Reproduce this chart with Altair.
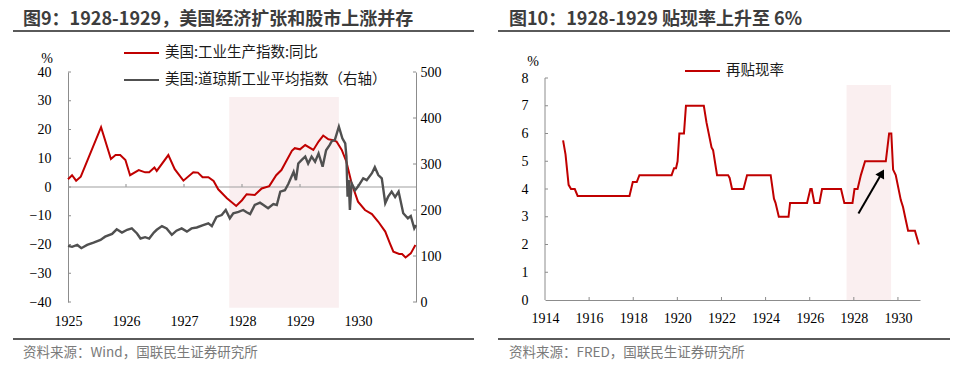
import altair as alt
import pandas as pd

# ---------------- data ----------------
# Left: US industrial production YoY (%), left axis
ip_year = [1925.00, 1925.07, 1925.14, 1925.22, 1925.57, 1925.74, 1925.82, 1925.90, 1925.99,
           1926.07, 1926.22, 1926.33, 1926.40, 1926.49, 1926.53, 1926.73, 1926.84, 1926.99,
           1927.16, 1927.24, 1927.32, 1927.42, 1927.51, 1927.59, 1927.74, 1927.90, 1928.00,
           1928.08, 1928.22, 1928.34, 1928.47, 1928.59, 1928.68, 1928.86, 1928.91, 1929.00,
           1929.09, 1929.23, 1929.32, 1929.40, 1929.49, 1929.57, 1929.63, 1929.72, 1929.80,
           1929.89, 1930.00, 1930.12, 1930.24, 1930.35, 1930.47, 1930.55, 1930.61, 1930.71,
           1930.76, 1930.82, 1930.91, 1930.99]
ip_yoy = [2.7, 4.1, 2.2, 3.6, 20.8, 9.7, 11.1, 11.1, 9.4,
          4.1, 5.9, 5.1, 5.1, 6.8, 5.6, 11.1, 6.2, 2.2,
          5.1, 5.0, 3.4, 3.4, 2.1, -0.8, -3.9, -6.6, -4.6,
          -2.5, -2.8, -0.5, 0.3, 4.1, 5.9, 12.6, 13.5, 13.1,
          14.6, 12.9, 15.8, 17.9, 16.6, 16.3, 15.8, 12.9, 8.8,
          1.3, -5.1, -8.0, -9.4, -12.1, -15.5, -19.6, -22.5, -23.3,
          -23.3, -24.5, -23.1, -20.2]

# Left: Dow Jones Industrial Average, right axis
dj_year = [1925.00, 1925.07, 1925.16, 1925.23, 1925.33, 1925.44, 1925.56, 1925.64, 1925.76,
           1925.84, 1925.93, 1926.02, 1926.10, 1926.19, 1926.25, 1926.33, 1926.40, 1926.48,
           1926.53, 1926.62, 1926.70, 1926.79, 1926.87, 1926.96, 1927.05, 1927.13, 1927.22,
           1927.33, 1927.42, 1927.48, 1927.56, 1927.65, 1927.72, 1927.79, 1927.85, 1927.94,
           1928.02, 1928.08, 1928.14, 1928.22, 1928.31, 1928.37, 1928.45, 1928.54, 1928.60,
           1928.66, 1928.74, 1928.80, 1928.89, 1928.93, 1928.97, 1929.03, 1929.09, 1929.14,
           1929.20, 1929.26, 1929.32, 1929.39, 1929.45, 1929.51, 1929.55, 1929.60, 1929.67,
           1929.73, 1929.78, 1929.80, 1929.82, 1929.84, 1929.86, 1929.89, 1929.95, 1930.00,
           1930.09, 1930.15, 1930.24, 1930.29, 1930.35, 1930.41, 1930.47, 1930.52, 1930.58,
           1930.64, 1930.70, 1930.78, 1930.86, 1930.91, 1930.97, 1931.00]
dj_val = [122, 120, 124, 117, 124, 129, 135, 142, 148,
          158, 151, 157, 160, 149, 138, 141, 138, 151,
          157, 165, 160, 146, 155, 160, 153, 160, 162,
          167, 171, 165, 185, 189, 200, 182, 193, 196,
          200, 195, 191, 211, 216, 211, 204, 213, 211,
          240, 243, 257, 283, 265, 301, 309, 316, 301,
          316, 305, 323, 294, 330, 341, 350, 352, 381,
          356, 345, 316, 229, 265, 200, 258, 243, 251,
          269, 265, 280, 293, 276, 269, 215, 229, 240,
          228, 240, 193, 182, 187, 160, 167]

# Right: discount rate (%)
dr_year = [1914.82, 1914.93, 1915.07, 1915.18, 1915.35, 1915.48, 1917.83, 1917.98, 1918.16,
           1918.28, 1919.74, 1919.85, 1919.94, 1920.01, 1920.09, 1920.30, 1920.39, 1921.20,
           1921.32, 1921.55, 1921.62, 1921.80, 1922.30, 1922.37, 1922.48, 1923.00, 1923.16,
           1924.23, 1924.38, 1924.45, 1924.60, 1925.04, 1925.11, 1925.88, 1926.03, 1926.09,
           1926.21, 1926.44, 1926.56, 1927.42, 1927.57, 1927.94, 1928.03, 1928.17, 1928.32,
           1928.51, 1929.45, 1929.60, 1929.70, 1929.78, 1929.90, 1930.13, 1930.23, 1930.35,
           1930.46, 1930.77, 1930.95]
dr_val = [5.75, 5.25, 4.15, 4.0, 4.0, 3.75, 3.75, 4.25, 4.25,
          4.5, 4.5, 4.75, 4.75, 5.0, 6.0, 6.0, 7.0, 7.0,
          6.4, 5.5, 5.4, 4.5, 4.5, 4.4, 4.0, 4.0, 4.5,
          4.5, 3.65, 3.5, 3.0, 3.0, 3.5, 3.5, 4.0, 4.0,
          3.5, 3.5, 4.0, 4.0, 3.5, 3.5, 4.0, 4.0, 4.5,
          5.0, 5.0, 6.0, 6.0, 4.7, 4.5, 3.6, 3.35, 2.9,
          2.5, 2.5, 2.0]

left_ticks = [-40, -30, -20, -10, 0, 10, 20, 30, 40]
right_ticks = [0, 100, 200, 300, 400, 500]
left_years = [1925, 1926, 1927, 1928, 1929, 1930]
right_ticks2 = [0, 1, 2, 3, 4, 5, 6, 7, 8]
right_years = [1914, 1916, 1918, 1920, 1922, 1924, 1926, 1928, 1930]

shade1 = [1927.78, 1929.67, -42.0, 31.3]   # x0, x1, y0, y1
shade2 = [1927.67, 1929.69, 0.0, 7.75]
arrow_tail = [1928.21, 3.12]
arrow_head = [1929.27, 4.57]

S1 = "美国:工业生产指数:同比"
S2 = "美国:道琼斯工业平均指数（右轴）"
S3 = "再贴现率"
TITLE1 = "图9：1928-1929，美国经济扩张和股市上涨并存"
TITLE2 = "图10：1928-1929 贴现率上升至 6%"
SRC1 = "资料来源：Wind，国联民生证券研究所"
SRC2 = "资料来源：FRED，国联民生证券研究所"

# ---------------- styles ----------------
RED = "#C00000"
GRAY = "#505050"
PINK = "#FAEFF0"
AX = "#8c8c8c"
ZERO = "#a0a0a0"
RULE = "#5a5a5a"
SERIF = "Liberation Serif"
CJK = "Noto Sans CJK SC"
TCOL = "#3d3d3d"
SCOL = "#7a7a7a"

W1, H1 = 348, 230
W2, H2 = 375, 228
H2_8 = 222  # pixel height of 0..8 on right panel


def text_layer(txt, x, y, font=CJK, size=13.5, color="#000", weight="normal", align="left"):
    return alt.Chart(pd.DataFrame({"t": [txt]})).mark_text(
        align=align, baseline="middle", font=font, fontSize=size, color=color, fontWeight=weight
    ).encode(text="t:N", x=alt.value(x), y=alt.value(y))


def hrule(x0, x1, y, color=RULE, width=2, opacity=1):
    return alt.Chart(pd.DataFrame({"a": [0]})).mark_rule(
        color=color, strokeWidth=width, opacity=opacity
    ).encode(x=alt.value(x0), x2=alt.value(x1), y=alt.value(y))


# ================= Left panel =================
xs1 = alt.Scale(domain=[1925, 1931], nice=False, zero=False)
ysl = alt.Scale(domain=[-40, 40], nice=False, zero=False)
ysr = alt.Scale(domain=[0, 500], nice=False, zero=False)
xaxis1 = alt.Axis(values=left_years, format="d", title=None, domain=False, ticks=False,
                  tickSize=0, grid=False, labelFont=SERIF, labelFontSize=14,
                  labelColor="#000", labelPadding=12.5, labelFlush=False, labelOverlap=False)


def x1(field):
    return alt.X(field, type="quantitative", scale=xs1, axis=xaxis1)


color1 = alt.Scale(domain=[S1, S2], range=[RED, GRAY])
legend1 = alt.Legend(title=None, orient="none", legendX=55, legendY=-25, direction="vertical",
                     symbolType="stroke", symbolSize=1225, symbolStrokeWidth=2,
                     clipHeight=12, rowPadding=12, labelFont=CJK, labelFontSize=14.5,
                     labelColor="#1a1a1a", labelOffset=5, padding=0, labelLimit=400)

shade1_df = pd.DataFrame({"x0": [shade1[0]], "x1": [shade1[1]], "y0": [shade1[2]], "y1": [shade1[3]]})
shade_l = alt.Chart(shade1_df).mark_rect(color=PINK).encode(
    x=x1("x0"), x2="x1", y=alt.Y("y0:Q", scale=ysl, axis=None), y2="y1")

zero_df = pd.DataFrame({"x0": [1925], "x1": [1931], "y": [0]})
zero_l = alt.Chart(zero_df).mark_rule(color=ZERO, strokeWidth=1.2).encode(
    x=x1("x0"), x2="x1", y=alt.Y("y:Q", scale=ysl, axis=None))

zt_df = pd.DataFrame({"year": left_years[1:]})
zero_ticks = alt.Chart(zt_df).mark_rule(color=ZERO, strokeWidth=1.2).encode(
    x=x1("year"), y=alt.Y(datum=0, scale=ysl, axis=None), y2=alt.Y2(datum=3 * 80 / H1))

lt_df = pd.DataFrame({"y": left_ticks})
ltick = alt.Chart(lt_df).mark_rule(color=AX, strokeWidth=1).encode(
    x=alt.value(0), x2=alt.value(3), y=alt.Y("y:Q", scale=ysl, axis=None))

rt_df = pd.DataFrame({"y": right_ticks})
rtick = alt.Chart(rt_df).mark_rule(color=AX, strokeWidth=1).encode(
    x=alt.value(W1 - 3), x2=alt.value(W1), y=alt.Y("y:Q", scale=ysr, axis=None))

ip_df = pd.DataFrame({"year": ip_year, "v": ip_yoy, "series": S1})
red_line = alt.Chart(ip_df).mark_line(strokeWidth=2).encode(
    x=x1("year"),
    y=alt.Y("v:Q", scale=ysl, axis=alt.Axis(orient="left", values=left_ticks, title=None,
                                             domain=True, domainColor=AX, domainWidth=1,
                                             ticks=False, tickSize=0, grid=False,
                                             labelFont=SERIF, labelFontSize=14,
                                             labelColor="#000", labelPadding=17,
                                             labelFlush=False, labelOverlap=False)),
    color=alt.Color("series:N", scale=color1, legend=legend1),
)

dj_df = pd.DataFrame({"year": dj_year, "v": dj_val, "series": S2})
gray_line = alt.Chart(dj_df).mark_line(strokeWidth=2.4).encode(
    x=x1("year"),
    y=alt.Y("v:Q", scale=ysr, axis=alt.Axis(orient="right", values=right_ticks, title=None,
                                             domain=True, domainColor=AX, domainWidth=1,
                                             ticks=False, tickSize=0, grid=False,
                                             labelFont=SERIF, labelFontSize=14,
                                             labelColor="#000", labelPadding=4,
                                             labelFlush=False, labelOverlap=False)),
    color=alt.Color("series:N", scale=color1, legend=legend1),
)

left = alt.layer(
    hrule(-68, -67, -72, opacity=0),
    shade_l, zero_l, zero_ticks, ltick, rtick, red_line, gray_line,
    text_layer(TITLE1, -45, -52, size=18, color=TCOL, weight="bold"),
    hrule(-55, 406, -41),
    hrule(-55, 406, 267),
    text_layer(SRC1, -45, 281, size=13.5, color=SCOL),
    text_layer("%", -21, -13, font=SERIF, size=14, align="center"),
).resolve_scale(y="independent").properties(width=W1, height=H1)

# ================= Right panel =================
xs2 = alt.Scale(domain=[1914, 1931], nice=False, zero=False)
ys2 = alt.Scale(domain=[0, 8 * H2 / H2_8], nice=False, zero=False)
xaxis2 = alt.Axis(values=right_years, format="d", title=None, domain=True, domainColor=AX,
                  domainWidth=1, ticks=False, tickSize=0, grid=False, labelFont=SERIF,
                  labelFontSize=14, labelColor="#000", labelPadding=11.5,
                  labelFlush=False, labelOverlap=False)
yaxis2 = alt.Axis(orient="left", values=right_ticks2, title=None, domain=False, ticks=False,
                  tickSize=0, grid=False, labelFont=SERIF, labelFontSize=14,
                  labelColor="#000", labelPadding=17, labelFlush=False, labelOverlap=False)


def x2(field):
    return alt.X(field, type="quantitative", scale=xs2, axis=xaxis2)


def y2(field):
    return alt.Y(field, type="quantitative", scale=ys2, axis=yaxis2)


shade2_df = pd.DataFrame({"x0": [shade2[0]], "x1": [shade2[1]], "y0": [shade2[2]], "y1": [shade2[3]]})
shade_r = alt.Chart(shade2_df).mark_rect(color=PINK).encode(
    x=x2("x0"), x2="x1", y=y2("y0"), y2="y1")

yax_df = pd.DataFrame({"x": [1914], "y0": [0], "y1": [8]})
yaxis_line = alt.Chart(yax_df).mark_rule(color=AX, strokeWidth=1).encode(
    x=x2("x"), y=y2("y0"), y2="y1")

yt_df = pd.DataFrame({"y": right_ticks2[1:]})
ytick2 = alt.Chart(yt_df).mark_rule(color=AX, strokeWidth=1).encode(
    x=alt.value(0), x2=alt.value(3), y=y2("y"))

xt_df = pd.DataFrame({"year": right_years[1:], "y0": 0.0, "y1": 3 * 8 / H2_8})
xtick2 = alt.Chart(xt_df).mark_rule(color=AX, strokeWidth=1).encode(
    x=x2("year"), y=y2("y0"), y2="y1")

dr_df = pd.DataFrame({"year": dr_year, "v": dr_val, "series": S3})
dr_line = alt.Chart(dr_df).mark_line(strokeWidth=2).encode(
    x=x2("year"),
    y=y2("v"),
    color=alt.Color("series:N", scale=alt.Scale(domain=[S3], range=[RED]),
                    legend=alt.Legend(title=None, orient="none", legendX=139, legendY=-7,
                                      symbolType="stroke", symbolSize=1225,
                                      symbolStrokeWidth=2, clipHeight=12, labelFont=CJK,
                                      labelFontSize=14.5, labelColor="#1a1a1a",
                                      labelOffset=5, padding=0)),
)

arrow_df = pd.DataFrame({"x0": [arrow_tail[0]], "y0": [arrow_tail[1]],
                         "x1": [arrow_head[0]], "y1": [arrow_head[1]]})
arrow_line = alt.Chart(arrow_df).mark_rule(color="#000", strokeWidth=2).encode(
    x=x2("x0"), x2="x1", y=y2("y0"), y2="y1")
arrow_tip = alt.Chart(arrow_df).mark_point(shape="triangle-up", filled=True, color="#000",
                                           opacity=1, size=100, angle=29.5).encode(
    x=x2("x1"), y=y2("y1"))

right = alt.layer(
    shade_r, yaxis_line, ytick2, xtick2, dr_line, arrow_line, arrow_tip,
    text_layer(TITLE2, -36, -52, size=18, color=TCOL, weight="bold"),
    hrule(-47, 405, -41),
    hrule(-47, 405, 267),
    text_layer(SRC2, -36, 281, size=13.5, color=SCOL),
    text_layer("%", -12, -10, font=SERIF, size=14, align="center"),
).properties(width=W2, height=H2)

chart = alt.hconcat(left, right, spacing=129, bounds="flush").resolve_scale(
    color="independent"
).resolve_legend(color="independent").properties(
    padding=0, background="white"
).configure_view(stroke=None)

chart.save("out.html", embed_options={"renderer": "svg", "actions": False})
